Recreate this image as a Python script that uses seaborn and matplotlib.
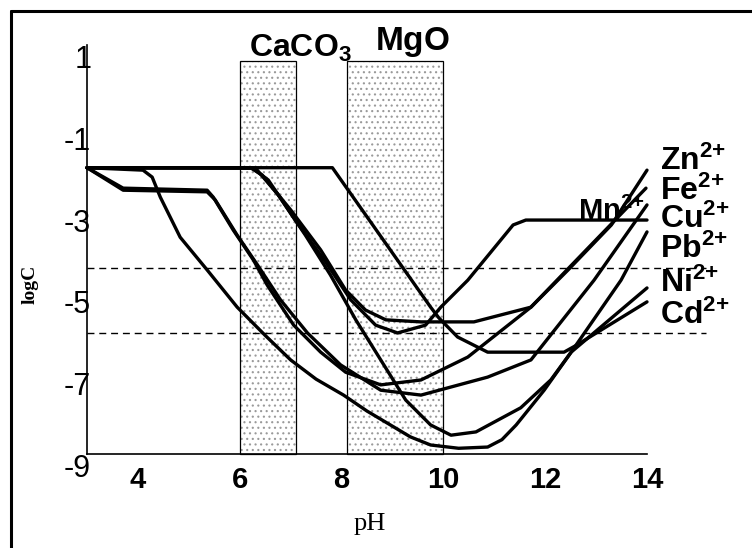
import matplotlib
matplotlib.use("Agg")
import matplotlib.pyplot as plt
import seaborn as sns
import pandas as pd
from matplotlib.lines import Line2D

# ---------------- data ----------------
ions = ["Zn", "Fe", "Cu", "Mn", "Pb", "Ni", "Cd"]

zn_ph = [3.0, 6.21, 6.44, 7.0, 7.59, 8.08, 8.47, 8.87, 9.56, 10.60, 11.72, 12.45, 13.30, 14.0]
zn_c  = [-2.0, -2.0, -2.18, -3.03, -4.01, -4.99, -5.48, -5.72, -5.77, -5.77, -5.41, -4.50, -3.40, -2.06]

fe_ph = [3.0, 3.71, 5.36, 5.48, 5.87, 6.27, 6.54, 7.06, 7.59, 8.08, 8.77, 9.56, 10.48, 11.72, 12.90, 13.98]
fe_c  = [-2.0, -2.50, -2.55, -2.72, -3.52, -4.26, -4.87, -5.85, -6.51, -7.00, -7.31, -7.19, -6.63, -5.41, -3.89, -2.50]

cu_ph = [3.0, 3.71, 5.36, 5.52, 5.95, 6.35, 6.80, 7.33, 7.98, 8.77, 9.56, 10.87, 11.72, 12.96, 14.0]
cu_c  = [-2.0, -2.55, -2.59, -2.79, -3.65, -4.38, -5.23, -6.04, -6.82, -7.44, -7.56, -7.12, -6.70, -4.75, -2.91]

mn_ph = [3.0, 6.25, 6.56, 7.09, 7.69, 8.18, 8.67, 9.10, 9.65, 9.95, 10.48, 11.37, 11.62, 14.0]
mn_c  = [-2.0, -2.01, -2.30, -3.28, -4.31, -5.23, -5.85, -6.04, -5.85, -5.41, -4.75, -3.40, -3.28, -3.28]

pb_ph = [3.0, 4.10, 4.28, 4.44, 4.83, 5.36, 5.95, 6.5, 7.0, 7.5, 8.04, 8.5, 8.96, 9.35, 9.75, 10.3, 10.87, 11.15, 11.43, 11.98, 12.51, 13.49, 14.0]
pb_c  = [-2.0, -2.06, -2.23, -2.72, -3.70, -4.50, -5.41, -6.10, -6.70, -7.17, -7.56, -7.95, -8.29, -8.58, -8.78, -8.86, -8.83, -8.65, -8.29, -7.44, -6.51, -4.75, -3.57]

ni_ph = [3.0, 6.31, 6.76, 7.29, 7.78, 8.28, 8.77, 9.26, 9.75, 10.15, 10.64, 11.52, 12.11, 12.51, 14.0]
ni_c  = [-2.0, -2.01, -2.67, -3.65, -4.62, -5.72, -6.70, -7.68, -8.29, -8.54, -8.46, -7.87, -7.19, -6.51, -4.94]

cd_ph = [3.0, 7.82, 9.75, 9.91, 10.28, 10.87, 12.37, 12.60, 14.0]
cd_c  = [-2.0, -2.0, -5.41, -5.67, -6.14, -6.51, -6.51, -6.35, -5.28]

# end-label baselines (logC) and label text
label_y = [-2.06, -2.79, -3.47, -4.21, -5.04, -5.82]
label_ions = ["Zn", "Fe", "Cu", "Pb", "Ni", "Cd"]
mn_label_pos = (12.65, -3.28)

# neutraliser ranges
bar_left = [6.0, 8.1]
bar_right = [7.1, 10.0]
bar_top = 0.6

# dashed limits
dash_levels = [-4.45, -6.04]

x_ticks = [4, 6, 8, 10, 12, 14]
y_ticks = [1, -1, -3, -5, -7, -9]
y_tick_labels = ["1", "-1", "-3", "-5", "-7", "-9"]

# ---------------- style ----------------
sns.set_style("white")
plt.rcParams["font.family"] = ["Liberation Sans", "DejaVu Sans"]
plt.rcParams["mathtext.fontset"] = "custom"
plt.rcParams["mathtext.bf"] = "Liberation Sans:bold"
plt.rcParams["mathtext.rm"] = "Liberation Sans"
plt.rcParams["axes.unicode_minus"] = False
plt.rcParams["hatch.linewidth"] = 0.8
for k in ["text.color", "axes.labelcolor", "xtick.color", "ytick.color", "axes.edgecolor"]:
    plt.rcParams[k] = "black"

series = {"Zn": (zn_ph, zn_c), "Fe": (fe_ph, fe_c), "Cu": (cu_ph, cu_c),
          "Mn": (mn_ph, mn_c), "Pb": (pb_ph, pb_c), "Ni": (ni_ph, ni_c),
          "Cd": (cd_ph, cd_c)}
rows = []
for ion in ions:
    xs, ys = series[ion]
    for i, (a, b) in enumerate(zip(xs, ys)):
        rows.append({"ion": ion, "pH": a, "logC": b, "k": i})
df = pd.DataFrame(rows)

fig = plt.figure(figsize=(7.52, 5.48), dpi=100)
ax = fig.add_axes([87 / 752, 1 - 454 / 548, (647 - 87) / 752, (454 - 45) / 548])

# hatched bars (gray dots) + black outline
widths = [r - l for l, r in zip(bar_left, bar_right)]
heights = [bar_top - (-9)] * len(bar_left)
ax.bar(bar_left, heights, width=widths, bottom=-9, align="edge",
       facecolor="white", edgecolor="#9a9a9a", hatch="...", linewidth=0, zorder=1)
ax.bar(bar_left, heights, width=widths, bottom=-9, align="edge",
       facecolor="none", edgecolor="black", linewidth=0.9, zorder=2, clip_on=False)

# dashed lines
for lv in dash_levels:
    ax.plot([3.0, 15.15], [lv, lv], ls=(0, (5, 3.5)), color="black", lw=1.0,
            clip_on=False, zorder=3)

sns.lineplot(data=df, x="pH", y="logC", units="ion", estimator=None, sort=False,
             color="black", lw=2.4, ax=ax, zorder=4, legend=False)
for ln in ax.get_lines():
    ln.set_clip_on(False)
    ln.set_solid_joinstyle("round")
    ln.set_solid_capstyle("round")

ax.set_xlim(3, 14)
ax.set_ylim(-9, 1)
ax.set_xticks(x_ticks)
ax.set_xticks(range(3, 15), minor=True)
ax.set_yticks(y_ticks)
ax.set_yticklabels(y_tick_labels)
ax.set_yticks([0, -2, -4, -6, -8], minor=True)
for sp in ["top", "right"]:
    ax.spines[sp].set_visible(False)
for sp in ["left", "bottom"]:
    ax.spines[sp].set_linewidth(1.2)
    ax.spines[sp].set_color("black")
ax.tick_params(axis="both", which="both", direction="in", length=5, width=1.0, color="black")
ax.tick_params(axis="x", which="major", pad=9, labelsize=21, labelcolor="black")
ax.tick_params(axis="y", which="major", pad=-3, labelsize=22, labelcolor="black")
for t in ax.get_xticklabels():
    t.set_fontweight("bold")
for t in ax.get_yticklabels():
    t.set_va("top")

ax.set_xlabel("")
ax.set_ylabel("")
fig.text(370 / 752, 1 - 530 / 548, "pH", ha="center", va="baseline",
         family="Liberation Serif", fontsize=19, color="black")
fig.text(30 / 752, 1 - 284 / 548, "logC", ha="center", va="center", rotation=90,
         family="Liberation Serif", fontweight="bold", fontsize=14, color="black")

# neutraliser labels
ax.text(bar_left[0] + 0.18, 0.72, r"$\mathbf{CaCO_3}$", fontsize=23, ha="left",
        va="baseline", clip_on=False, color="black")
ax.text(bar_left[1] + 0.55, 0.88, r"$\mathbf{MgO}$", fontsize=24, ha="left",
        va="baseline", clip_on=False, color="black")

# ion labels
for ion, yv in zip(label_ions, label_y):
    ax.text(14.26, yv, r"$\mathbf{" + ion + r"^{2{+}}}$", fontsize=23, ha="left",
            va="baseline", clip_on=False, color="black")
ax.text(mn_label_pos[0], mn_label_pos[1], r"$\mathbf{Mn^{2{+}}}$", fontsize=21,
        ha="left", va="baseline", clip_on=False, zorder=3, color="black")

# outer frame (top and left edge)
fig.add_artist(Line2D([11 / 752, 1.0], [1 - 11 / 548, 1 - 11 / 548], color="black", lw=2.2))
fig.add_artist(Line2D([11 / 752, 11 / 752], [0.0, 1 - 11 / 548], color="black", lw=2.2))

fig.savefig("out.png", dpi=100)
